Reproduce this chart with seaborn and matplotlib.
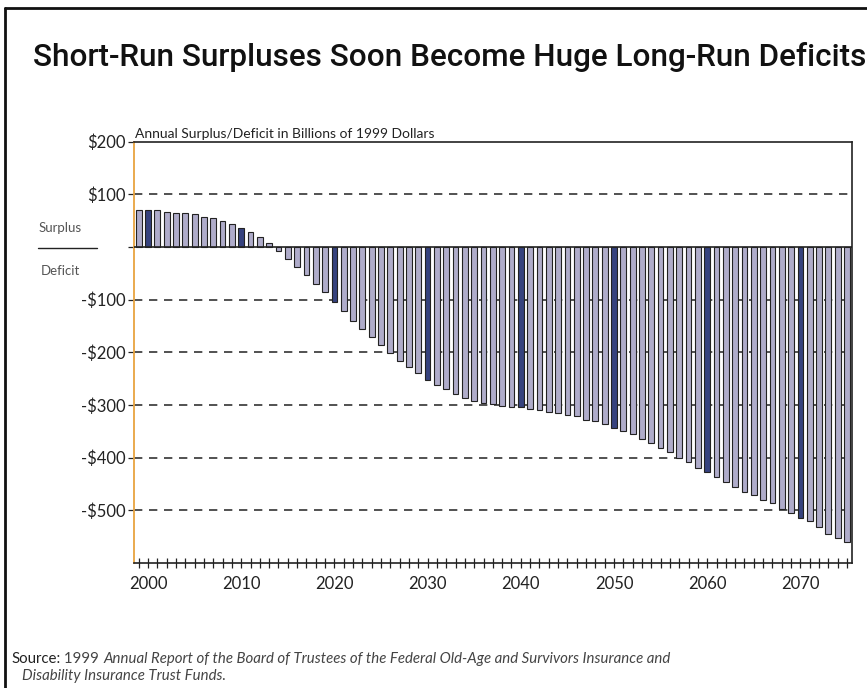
import numpy as np
import pandas as pd
import matplotlib.pyplot as plt
import seaborn as sns
from matplotlib.lines import Line2D

# Annual surplus/deficit, billions of 1999 dollars
years = list(range(1999, 2076))
balance = [70, 70, 70, 67, 65, 65, 62, 58, 55, 50, 44, 36, 29, 20, 8,
           -8, -22, -38, -53, -71, -86, -104, -122, -140, -156, -171, -186,
           -201, -216, -227, -240, -252, -262, -270, -280, -286, -292, -296,
           -299, -301, -304, -304, -307, -310, -313, -316, -319, -321, -328,
           -331, -336, -344, -350, -355, -364, -373, -382, -390, -400, -409,
           -419, -427, -437, -446, -456, -465, -470, -481, -487, -498, -506,
           -515, -521, -532, -544, -553, -560]
ytick_vals = [200, 100, 0, -100, -200, -300, -400, -500]
ytick_labels = ['$200', '$100', '', '-$100', '-$200', '-$300', '-$400', '-$500']
xtick_vals = [2000, 2010, 2020, 2030, 2040, 2050, 2060, 2070]

df = pd.DataFrame({'year': years, 'balance': balance})
df['decade'] = df['year'] % 10 == 0

sns.set_style('white')
plt.rcParams['font.family'] = ['Lato', 'DejaVu Sans']

fig = plt.figure(figsize=(8.67, 6.88), dpi=100)
ax = fig.add_axes([0.1546, 0.1817, 0.9823 - 0.1546, 0.794 - 0.1817])

light = '#ABA7CF'
dark = '#2A3A8A'
sns.barplot(data=df, x='year', y='balance', hue='decade',
            palette={False: light, True: dark}, dodge=False, legend=False,
            native_scale=True, width=0.62, edgecolor='#222222',
            linewidth=0.8, ax=ax, zorder=3)

ax.set_xlim(1998.5, 2075.5)
ax.set_ylim(-600, 200)

# dashed reference lines and solid zero line
for v in [100, -100, -200, -300, -400, -500]:
    ax.axhline(v, color='#333333', lw=1.2, ls=(0, (5, 4)), zorder=1)
ax.axhline(0, color='#222222', lw=1.2, zorder=4)

ax.set_yticks(ytick_vals)
ax.set_yticklabels(ytick_labels, fontsize=12, color='#222222')
ax.set_xticks(xtick_vals)
ax.set_xticklabels([str(x) for x in xtick_vals], fontsize=12, color='#222222')
ax.set_xticks(years, minor=True)
ax.tick_params(axis='x', which='both', direction='inout', length=7,
               width=0.9, color='#222222', bottom=True, pad=6)
ax.tick_params(axis='y', which='major', direction='out', length=4,
               width=0.9, color='#222222', left=True, pad=2)
ax.set_xlabel('')
ax.set_ylabel('')

for side in ['top', 'right', 'bottom']:
    ax.spines[side].set_color('#222222')
    ax.spines[side].set_linewidth(1.2)
ax.spines['left'].set_color('#E8A440')
ax.spines['left'].set_linewidth(1.3)

# subtitle sitting on top spine
ax.text(0.002, 1.003, 'Annual Surplus/Deficit in Billions of 1999 Dollars',
        transform=ax.transAxes, fontsize=10, color='#222222',
        ha='left', va='bottom')

# Surplus / Deficit side labels
fig.text(60 / 867, 1 - 228 / 688, 'Surplus', fontsize=9.5, color='#555555',
         ha='center', va='center')
fig.text(60 / 867, 1 - 271 / 688, 'Deficit', fontsize=9.5, color='#555555',
         ha='center', va='center')
fig.add_artist(Line2D([38 / 867, 97 / 867], [1 - 248 / 688, 1 - 248 / 688],
                      color='#222222', lw=1.0))

# title
fig.text(33 / 867, 1 - 57 / 688,
         'Short-Run Surpluses Soon Become Huge Long-Run Deficits',
         fontsize=22.7, fontweight='medium', color='#111111',
         ha='left', va='center', family=['Roboto', 'DejaVu Sans'])

# outer frame (left and top edges)
fig.add_artist(Line2D([5 / 867, 5 / 867], [0, 1 - 8 / 688], color='#111111', lw=2))
fig.add_artist(Line2D([5 / 867, 1], [1 - 8 / 688, 1 - 8 / 688], color='#111111', lw=2))

# source note, mixed upright / italic
t1 = fig.text(11 / 867, 1 - 659 / 688, 'Source:', fontsize=10.8,
              color='#222222', va='center')
t2 = ax.annotate(' 1999 ', xy=(1, 0), xycoords=t1, va='bottom',
                 fontsize=10.8, color='#444444')
ax.annotate('Annual Report of the Board of Trustees of the Federal Old-Age and '
            'Survivors Insurance and', xy=(1, 0), xycoords=t2, va='bottom',
            fontsize=10.8, color='#444444', style='italic')
fig.text(22 / 867, 1 - 676 / 688, 'Disability Insurance Trust Funds.',
         fontsize=10.8, color='#444444', va='center', style='italic')

fig.savefig('out.png', dpi=100)
